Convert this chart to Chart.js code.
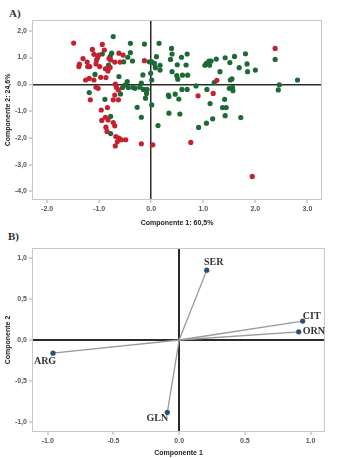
<!DOCTYPE html>
<html>
<head>
<meta charset="utf-8">
<script src="https://cdn.jsdelivr.net/npm/chart.js@4.4.1/dist/chart.umd.min.js"></script>
<style>
    body { margin: 0; background: #fff; width: 343px; height: 458px; position: relative; overflow: hidden; }
    .panel-label { position: absolute; font-family: "Liberation Serif", serif; font-weight: bold; font-size: 11px; color: #333; }
    #wrapA { position: absolute; left: 0; top: 0; width: 343px; height: 228px; }
    #wrapB { position: absolute; left: 0; top: 228px; width: 343px; height: 230px; }
</style>
</head>
<body>
<div class="panel-label" style="left:9px;top:7px;">A)</div>
<div class="panel-label" style="left:8px;top:230px;">B)</div>
<div id="wrapA"><canvas id="scoreChart"></canvas></div>
<div id="wrapB"><canvas id="loadingChart"></canvas></div>
<script>
// panel A: scores
const redX = [-1.49, -1.38, -1.39, -1.31, -1.23, -1.22, -1.18, -1.13, -1.10, -1.05, -1.03, -1.01, -0.94, -0.90, -1.06, -0.99,
    -0.88, -0.83, -0.79, -0.78, -0.81, -0.70, -0.62, -0.60, -0.54, -1.26, -1.19, -1.10, -1.06, -1.02, -0.97, -0.87, -1.17,
    -0.96, -0.84, -0.95, -0.88, -0.83, -0.87, -0.85, -0.73, -0.70, -0.69, -0.67, -0.63, -0.70, -0.73, -0.63, -0.68, -0.62,
    -0.65, -0.69, -0.57, -0.49, -0.19, 0.03, -0.13, 0.90, 0.76, 1.19, 1.26, 2.38, 1.94];
const redY = [1.54, 0.75, 0.66, 0.96, 0.83, 0.66, 0.66, 1.30, 1.12, 0.91, 0.99, 1.09, 1.49, 1.28, 0.76, 0.66,
    0.58, 0.50, 0.63, 0.91, 0.96, 0.83, 1.16, 0.83, 1.09, 0.16, 0.22, 0.16, -0.11, -0.15, 0.26, 0.25, -0.58,
    -0.96, -0.87, -1.35, -1.23, -1.33, -1.60, -1.76, -1.43, -1.55, 0.01, -0.11, -0.21, -0.40, -0.58, -0.58, -1.95, -2.01,
    -2.14, -2.30, -2.07, -2.07, -2.22, -2.26, 0.88, -0.43, -2.17, -0.34, 0.15, 1.34, -3.44];
const greenX = [-0.73, -0.40, -0.13, 0.15, 0.39, 0.40, 0.69, 0.58, 0.10, 0.37, 0.50, 0.67, 0.01, -0.04, 0.06, 0.08, 0.17,
    0.17, -0.01, -0.16, 0.40, 0.49, 0.60, 0.70, 0.51, 0.01, -0.40, -0.45, -0.36, -0.53, -0.76, -0.94, -0.79, -0.82, -0.86,
    -1.08, -0.62, -0.46, -0.50, -0.55, -0.44, -0.35, -0.31, -0.22, -0.19, -0.15, -0.08, -0.11, -0.09, -1.19, -0.89, -0.59,
    0.01, -0.27, -0.19, 0.34, 0.55, 0.13, 0.33, 0.34, 0.46, 0.53, 0.59, 0.69, 0.86, 0.91, 1.06, 1.18, 1.13, 1.07, 1.21,
    1.03, 1.06, 1.11, 1.15, 1.12, 1.25, 1.32, 1.42, 1.51, 1.60, 1.69, 1.81, 1.84, 1.85, 2.00, 1.52, 1.55, 1.50, 1.56, 1.57,
    1.37, 1.44, 1.41, 1.42, 1.72, 2.38, 2.46, 2.44, 2.81, -0.78, -0.78];
const greenY = [1.78, 1.53, 1.50, 1.53, 1.34, 1.13, 1.13, 1.01, 1.03, 0.93, 0.73, 0.72, 0.84, 0.84, 0.78, 0.62, 0.71,
    0.53, 0.41, 0.35, 0.47, 0.32, 0.34, 0.34, 0.19, 0.16, 1.18, 1.01, 0.87, 0.84, 1.16, 1.13, 1.03, 0.72, 0.58,
    0.37, 0.29, 0.10, -0.02, -0.12, -0.12, -0.12, -0.15, -0.11, 0.04, -0.19, -0.19, -0.52, -0.34, -0.31, -0.56, -0.36,
    -0.77, -0.86, -1.23, -1.08, -1.11, -1.54, -0.40, -0.46, -0.37, -0.55, -0.19, -0.19, -0.06, -1.61, -1.45, -1.29, -0.72, -0.19, 0.06,
    0.71, 0.78, 0.87, 0.87, 0.71, 0.94, 0.47, 0.99, 0.81, 1.04, 0.62, 1.14, 0.76, 0.47, 0.53, 0.16, 0.20, -0.15, -0.11, -0.24,
    -0.87, -0.87, -0.56, -1.17, -1.24, 0.93, -0.02, -0.21, 0.16, -1.20, -1.84];
const xTicksA = [-2, -1, 0, 1, 2, 3];
const yTicksA = [2, 1, 0, -1, -2, -3, -4];

// panel B: loadings
const varNames = ['SER', 'CIT', 'ORN', 'ARG', 'GLN'];
const loadX = [0.21, 0.94, 0.91, -0.96, -0.09];
const loadY = [0.85, 0.23, 0.10, -0.16, -0.88];
const ticksB = [-1, -0.5, 0, 0.5, 1];

const sans = '"Liberation Sans", Arial, sans-serif';
const tickFont = { family: sans, size: 7, weight: 'bold' };
const titleFont = { family: sans, size: 7, weight: 'bold' };

const frame = {
    id: 'frame',
    beforeDatasetsDraw(chart) {
        const a = chart.chartArea, ctx = chart.ctx;
        ctx.save();
        ctx.strokeStyle = '#c8c8c8';
        ctx.lineWidth = 1;
        ctx.strokeRect(a.left + 0.5, a.top + 0.5, a.right - a.left - 1, a.bottom - a.top - 1);
        ctx.restore();
    }
};

function axis(min, max, ticks, title, comma, zeroWidth, fitSize, isY) {
    return {
        type: 'linear',
        min: min,
        max: max,
        afterBuildTicks: s => { s.ticks = ticks.map(v => ({ value: v })); },
        afterFit: s => { if (isY) s.width = fitSize; else s.height = fitSize; },
        border: { display: false },
        grid: {
            color: c => c.tick && c.tick.value === 0 ? '#2a2a2a' : 'rgba(0,0,0,0)',
            lineWidth: c => c.tick && c.tick.value === 0 ? zeroWidth : 0,
            tickColor: '#aaa',
            tickLength: 3,
            tickWidth: 1
        },
        ticks: {
            font: tickFont,
            color: '#555',
            padding: 2,
            maxRotation: 0,
            callback: v => { const t = Number(v).toFixed(1); return comma ? t.replace('.', ',') : t; }
        },
        title: {
            display: true, text: title, font: titleFont, color: '#222',
            padding: isY ? { top: 0, bottom: 0 } : { top: 2, bottom: 1 }
        }
    };
}

new Chart(document.getElementById('scoreChart'), {
    type: 'scatter',
    data: {
        datasets: [
            { data: redX.map((x, i) => ({ x: x, y: redY[i] })), backgroundColor: '#c42030', borderWidth: 0, pointRadius: 2.6 },
            { data: greenX.map((x, i) => ({ x: x, y: greenY[i] })), backgroundColor: '#1c6a35', borderWidth: 0, pointRadius: 2.6 }
        ]
    },
    options: {
        responsive: true,
        maintainAspectRatio: false,
        animation: false,
        layout: { padding: { left: 4, right: 21, top: 20, bottom: 0 } },
        plugins: { legend: { display: false }, tooltip: { enabled: false } },
        scales: {
            x: axis(-2.29, 3.28, xTicksA, 'Componente 1: 60,5%', false, 1.5, 28, false),
            y: axis(-4.32, 2.4, yTicksA, 'Componente 2: 24,6%', true, 1.5, 28, true)
        }
    },
    plugins: [frame]
});

const varLabels = {
    id: 'varLabels',
    afterDatasetsDraw(chart) {
        const ctx = chart.ctx, sx = chart.scales.x, sy = chart.scales.y;
        const offsets = { SER: [7, -8, 'center'], CIT: [9, -5, 'center'], ORN: [4, 0, 'left'], ARG: [-8, 8, 'center'], GLN: [-10, 6, 'center'] };
        ctx.save();
        ctx.font = 'bold 10px "Liberation Serif", serif';
        ctx.fillStyle = '#333';
        ctx.textBaseline = 'middle';
        varNames.forEach((n, i) => {
            const o = offsets[n];
            ctx.textAlign = o[2];
            ctx.fillText(n, sx.getPixelForValue(loadX[i]) + o[0], sy.getPixelForValue(loadY[i]) + o[1]);
        });
        ctx.restore();
    }
};

new Chart(document.getElementById('loadingChart'), {
    type: 'scatter',
    data: {
        datasets: varNames.map((n, i) => ({
            label: n,
            data: [{ x: 0, y: 0 }, { x: loadX[i], y: loadY[i] }],
            showLine: true,
            borderColor: '#9a9a9a',
            borderWidth: 1.3,
            backgroundColor: '#2c4f78',
            pointRadius: [0, 2.6],
            pointBorderWidth: 0
        }))
    },
    options: {
        responsive: true,
        maintainAspectRatio: false,
        animation: false,
        layout: { padding: { left: 4, right: 18, top: 20, bottom: 0 } },
        plugins: { legend: { display: false }, tooltip: { enabled: false } },
        scales: {
            x: axis(-1.12, 1.11, ticksB, 'Componente 1', false, 2, 26, false),
            y: axis(-1.12, 1.12, ticksB, 'Componente 2', true, 2, 28, true)
        }
    },
    plugins: [frame, varLabels]
});
</script>
</body>
</html>
